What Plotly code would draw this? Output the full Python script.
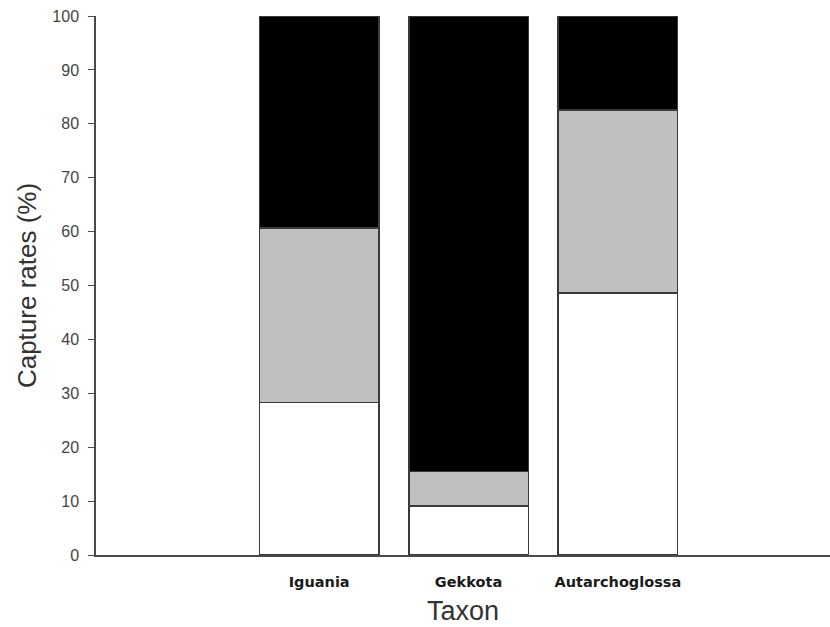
import plotly.graph_objects as go

taxa = ["Iguania", "Gekkota", "Autarchoglossa"]
white_share = [28.3, 9.1, 48.6]
gray_share = [32.4, 6.4, 34.0]
black_share = [39.3, 84.5, 17.4]
y_ticks = [0, 10, 20, 30, 40, 50, 60, 70, 80, 90, 100]

outline = dict(color="#3a3a3a", width=1.5)

fig = go.Figure()
for name, vals, color in [
    ("Class 1", white_share, "#ffffff"),
    ("Class 2", gray_share, "#c0c0c0"),
    ("Class 3", black_share, "#000000"),
]:
    fig.add_trace(go.Bar(
        x=taxa, y=vals, name=name, width=0.8,
        marker=dict(color=color, line=outline),
        showlegend=False,
    ))

fig.update_layout(
    barmode="stack",
    width=830, height=627,
    margin=dict(l=96, r=0, t=16, b=72),
    paper_bgcolor="white", plot_bgcolor="white",
    font=dict(family="Liberation Sans, Arial, sans-serif", color="#333333"),
)

fig.update_xaxes(
    type="category",
    range=[-1.494, 3.42],
    showline=True, linecolor="#4a4a4a", linewidth=1.5,
    ticks="", showgrid=False, zeroline=False,
    tickfont=dict(family="DejaVu Sans", size=14.5, color="#1a1a1a", weight="bold"),
    ticklabelstandoff=13,
    title=dict(text="Taxon", font=dict(size=27, color="#333333"), standoff=12),
)

fig.update_yaxes(
    range=[0, 100],
    tickvals=y_ticks,
    showline=True, linecolor="#4a4a4a", linewidth=1.5,
    ticks="outside", ticklen=6, tickcolor="#4a4a4a", tickwidth=1.2,
    showgrid=False, zeroline=False,
    tickfont=dict(size=16, color="#444444"),
    ticklabelstandoff=6,
    title=dict(text="Capture rates (%)", font=dict(size=26, color="#333333"), standoff=8),
)

fig.write_html("out.html")
